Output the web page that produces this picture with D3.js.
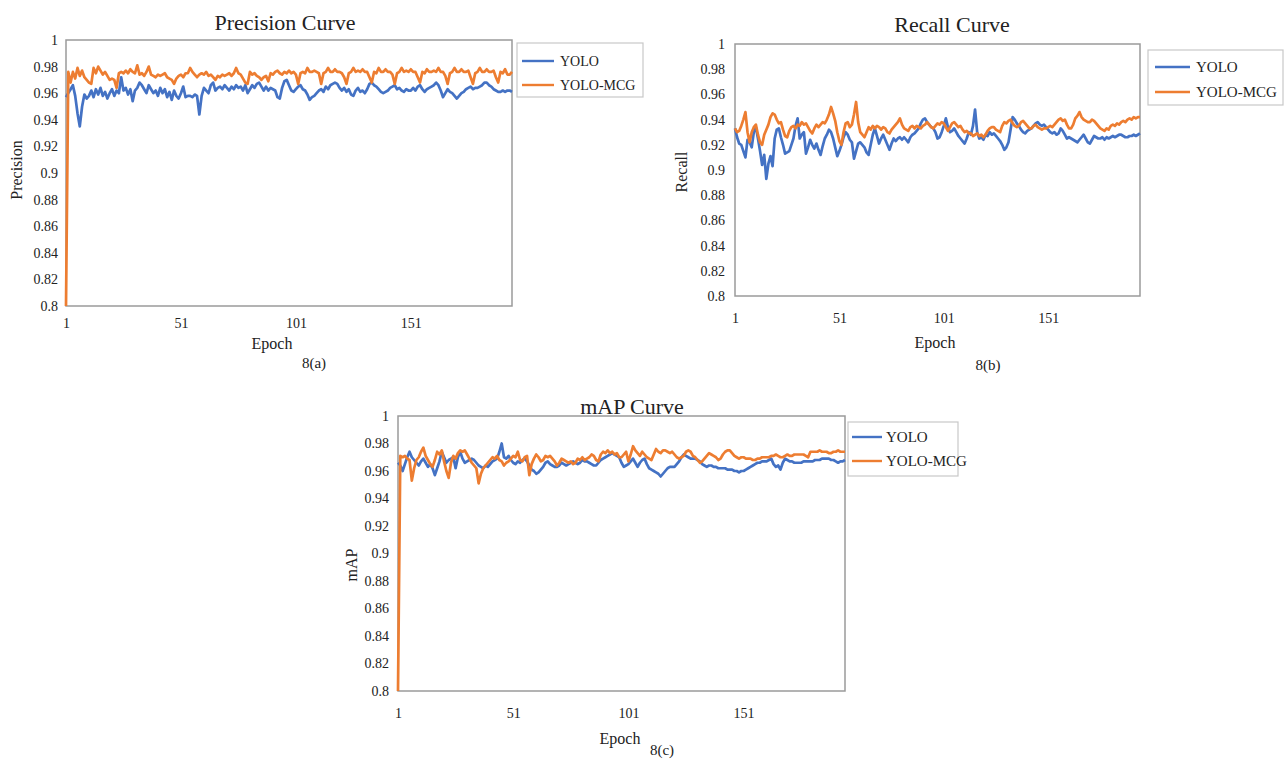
<!DOCTYPE html>
<html>
<head>
<meta charset="utf-8">
<script src="https://cdn.jsdelivr.net/npm/d3@7"></script>
<style>
  body { margin: 0; background: #fff; }
  svg text { font-family: "Liberation Serif", "Times New Roman", serif; fill: #222; }
</style>
</head>
<body>
<svg id="fig" width="1284" height="759"></svg>
<script>
// ── data ──────────────────────────────────────────────────────────────────────
const seriesNames = ["YOLO", "YOLO-MCG"];
const seriesColors = ["#4472C4", "#ED7D31"];
const xTicks = [1, 51, 101, 151];
const yTicks = [0.8, 0.82, 0.84, 0.86, 0.88, 0.9, 0.92, 0.94, 0.96, 0.98, 1];
const yTickLabels = ["0.8", "0.82", "0.84", "0.86", "0.88", "0.9", "0.92", "0.94", "0.96", "0.98", "1"];

const precisionYOLO = [
  0.957,0.960,0.963,0.966,0.958,0.945,0.935,0.950,0.959,0.956,
  0.958,0.962,0.957,0.963,0.959,0.964,0.958,0.961,0.956,0.960,
  0.963,0.958,0.962,0.960,0.972,0.962,0.964,0.959,0.963,0.954,
  0.962,0.964,0.968,0.966,0.963,0.960,0.966,0.963,0.960,0.962,
  0.958,0.964,0.960,0.963,0.957,0.961,0.955,0.962,0.958,0.956,
  0.960,0.965,0.957,0.958,0.958,0.957,0.959,0.958,0.944,0.958,
  0.964,0.962,0.960,0.966,0.968,0.962,0.964,0.965,0.963,0.966,
  0.964,0.962,0.965,0.963,0.966,0.964,0.965,0.962,0.966,0.960,
  0.963,0.966,0.964,0.967,0.968,0.965,0.962,0.965,0.962,0.964,
  0.963,0.962,0.957,0.956,0.964,0.969,0.970,0.966,0.962,0.961,
  0.963,0.965,0.966,0.963,0.962,0.959,0.955,0.957,0.958,0.960,
  0.962,0.963,0.961,0.965,0.963,0.966,0.967,0.968,0.967,0.964,
  0.962,0.964,0.961,0.963,0.959,0.958,0.962,0.964,0.961,0.962,
  0.960,0.963,0.967,0.968,0.966,0.965,0.963,0.961,0.960,0.961,
  0.962,0.964,0.965,0.966,0.963,0.964,0.962,0.961,0.963,0.962,
  0.962,0.964,0.962,0.965,0.966,0.963,0.961,0.963,0.964,0.965,
  0.966,0.968,0.966,0.962,0.957,0.960,0.963,0.961,0.960,0.958,
  0.956,0.958,0.960,0.961,0.963,0.964,0.965,0.963,0.964,0.964,
  0.965,0.966,0.968,0.968,0.966,0.965,0.963,0.962,0.961,0.961,
  0.962,0.961,0.962,0.962,0.961
];
const precisionMCG = [
  0.800,0.976,0.968,0.976,0.971,0.979,0.973,0.977,0.972,0.970,
  0.968,0.967,0.979,0.975,0.980,0.977,0.974,0.976,0.973,0.970,
  0.971,0.970,0.964,0.975,0.976,0.975,0.977,0.975,0.978,0.976,
  0.975,0.981,0.974,0.975,0.973,0.976,0.980,0.974,0.973,0.972,
  0.974,0.973,0.974,0.975,0.972,0.971,0.970,0.967,0.971,0.973,
  0.974,0.972,0.975,0.975,0.979,0.976,0.974,0.972,0.974,0.975,
  0.974,0.976,0.973,0.974,0.972,0.970,0.973,0.972,0.974,0.973,
  0.974,0.975,0.973,0.975,0.979,0.975,0.974,0.971,0.968,0.967,
  0.976,0.974,0.975,0.973,0.972,0.970,0.972,0.973,0.969,0.975,
  0.974,0.976,0.977,0.975,0.974,0.976,0.975,0.977,0.975,0.976,
  0.974,0.967,0.975,0.976,0.975,0.979,0.976,0.976,0.977,0.976,
  0.975,0.967,0.975,0.976,0.979,0.976,0.976,0.978,0.976,0.976,
  0.975,0.972,0.967,0.975,0.976,0.979,0.976,0.977,0.976,0.978,
  0.976,0.976,0.972,0.968,0.976,0.975,0.979,0.976,0.976,0.978,
  0.976,0.976,0.974,0.967,0.975,0.976,0.979,0.976,0.977,0.976,
  0.978,0.976,0.976,0.972,0.968,0.976,0.975,0.978,0.976,0.976,
  0.977,0.976,0.979,0.976,0.976,0.973,0.967,0.975,0.976,0.979,
  0.976,0.976,0.978,0.976,0.976,0.977,0.972,0.967,0.975,0.976,
  0.979,0.976,0.976,0.978,0.976,0.976,0.977,0.972,0.968,0.976,
  0.975,0.978,0.974,0.974,0.976
];
const recallYOLO = [
  0.933,0.926,0.921,0.920,0.915,0.910,0.924,0.922,0.918,0.930,
  0.934,0.925,0.915,0.904,0.912,0.893,0.905,0.911,0.903,0.925,
  0.932,0.933,0.926,0.920,0.913,0.914,0.915,0.920,0.925,0.935,
  0.941,0.925,0.928,0.930,0.913,0.918,0.924,0.920,0.917,0.921,
  0.916,0.912,0.919,0.925,0.928,0.932,0.930,0.925,0.918,0.911,
  0.915,0.920,0.926,0.930,0.928,0.924,0.922,0.909,0.915,0.921,
  0.922,0.920,0.918,0.914,0.912,0.920,0.928,0.933,0.927,0.921,
  0.925,0.928,0.924,0.920,0.916,0.921,0.925,0.923,0.925,0.926,
  0.924,0.926,0.924,0.922,0.926,0.928,0.929,0.931,0.933,0.937,
  0.940,0.941,0.938,0.936,0.934,0.933,0.930,0.925,0.926,0.930,
  0.935,0.941,0.934,0.930,0.931,0.933,0.930,0.927,0.925,0.923,
  0.921,0.925,0.930,0.928,0.935,0.948,0.930,0.925,0.926,0.924,
  0.928,0.927,0.930,0.928,0.929,0.927,0.925,0.923,0.920,0.916,
  0.918,0.922,0.932,0.942,0.940,0.937,0.935,0.932,0.930,0.929,
  0.931,0.932,0.933,0.935,0.937,0.938,0.936,0.935,0.936,0.934,
  0.932,0.930,0.929,0.930,0.928,0.929,0.933,0.931,0.928,0.925,
  0.926,0.925,0.924,0.923,0.922,0.924,0.926,0.928,0.925,0.922,
  0.921,0.924,0.927,0.926,0.925,0.925,0.926,0.924,0.926,0.925,
  0.926,0.927,0.926,0.927,0.928,0.928,0.927,0.926,0.926,0.927,
  0.927,0.928,0.927,0.928,0.929
];
const recallMCG = [
  0.933,0.930,0.931,0.935,0.940,0.946,0.930,0.922,0.930,0.934,
  0.936,0.928,0.922,0.920,0.928,0.932,0.936,0.942,0.945,0.944,
  0.940,0.937,0.938,0.932,0.927,0.926,0.931,0.934,0.935,0.933,
  0.936,0.935,0.938,0.936,0.937,0.934,0.931,0.929,0.933,0.936,
  0.934,0.936,0.938,0.937,0.940,0.944,0.950,0.945,0.939,0.930,
  0.923,0.920,0.930,0.937,0.938,0.934,0.936,0.944,0.954,0.938,
  0.930,0.928,0.926,0.930,0.934,0.932,0.935,0.933,0.935,0.934,
  0.932,0.934,0.933,0.930,0.929,0.932,0.934,0.936,0.938,0.941,
  0.936,0.933,0.932,0.931,0.934,0.935,0.933,0.935,0.934,0.933,
  0.935,0.936,0.938,0.936,0.934,0.933,0.935,0.937,0.936,0.938,
  0.937,0.934,0.931,0.934,0.937,0.938,0.936,0.934,0.935,0.932,
  0.930,0.931,0.929,0.929,0.927,0.928,0.929,0.927,0.928,0.926,
  0.928,0.931,0.933,0.934,0.934,0.932,0.931,0.930,0.935,0.938,
  0.937,0.939,0.940,0.937,0.935,0.934,0.935,0.938,0.939,0.937,
  0.935,0.933,0.933,0.935,0.936,0.934,0.933,0.932,0.933,0.933,
  0.934,0.935,0.934,0.936,0.938,0.940,0.941,0.939,0.940,0.936,
  0.933,0.933,0.936,0.941,0.943,0.946,0.942,0.940,0.939,0.938,
  0.938,0.940,0.939,0.937,0.935,0.933,0.932,0.931,0.933,0.932,
  0.935,0.936,0.935,0.937,0.936,0.938,0.939,0.938,0.940,0.941,
  0.940,0.942,0.941,0.942,0.942
];
const mapYOLO = [
  0.966,0.964,0.960,0.965,0.970,0.974,0.970,0.968,0.966,0.964,
  0.967,0.969,0.966,0.963,0.965,0.962,0.957,0.962,0.967,0.974,
  0.970,0.966,0.968,0.969,0.970,0.962,0.970,0.974,0.969,0.966,
  0.967,0.968,0.969,0.968,0.966,0.964,0.963,0.962,0.964,0.963,
  0.965,0.967,0.968,0.969,0.974,0.980,0.970,0.969,0.971,0.968,
  0.966,0.965,0.967,0.966,0.968,0.969,0.967,0.964,0.961,0.960,
  0.958,0.959,0.961,0.963,0.966,0.967,0.965,0.964,0.963,0.963,
  0.964,0.966,0.965,0.964,0.965,0.966,0.967,0.966,0.965,0.966,
  0.968,0.967,0.967,0.966,0.965,0.964,0.964,0.966,0.968,0.969,
  0.970,0.971,0.972,0.973,0.972,0.971,0.970,0.966,0.963,0.964,
  0.965,0.967,0.969,0.966,0.963,0.966,0.968,0.969,0.965,0.962,
  0.961,0.960,0.959,0.958,0.956,0.958,0.960,0.962,0.963,0.963,
  0.963,0.965,0.967,0.970,0.972,0.971,0.970,0.969,0.969,0.969,
  0.968,0.967,0.965,0.964,0.963,0.964,0.964,0.963,0.963,0.962,
  0.962,0.962,0.962,0.961,0.961,0.961,0.960,0.960,0.959,0.960,
  0.960,0.961,0.962,0.963,0.964,0.965,0.966,0.966,0.967,0.967,
  0.967,0.968,0.969,0.965,0.963,0.964,0.961,0.966,0.969,0.968,
  0.967,0.967,0.966,0.966,0.966,0.966,0.967,0.967,0.967,0.967,
  0.967,0.968,0.968,0.968,0.969,0.969,0.969,0.969,0.968,0.968,
  0.967,0.966,0.967,0.967,0.968
];
const mapMCG = [
  0.800,0.971,0.970,0.971,0.969,0.968,0.953,0.962,0.968,0.970,
  0.974,0.977,0.971,0.968,0.965,0.963,0.968,0.974,0.972,0.975,
  0.967,0.960,0.955,0.966,0.971,0.969,0.973,0.975,0.974,0.975,
  0.972,0.969,0.966,0.964,0.962,0.951,0.958,0.962,0.964,0.966,
  0.968,0.970,0.969,0.971,0.968,0.967,0.964,0.966,0.967,0.969,
  0.971,0.970,0.974,0.968,0.967,0.970,0.971,0.957,0.965,0.969,
  0.972,0.970,0.967,0.968,0.971,0.970,0.971,0.969,0.967,0.964,
  0.966,0.969,0.968,0.967,0.966,0.967,0.965,0.966,0.969,0.968,
  0.970,0.968,0.969,0.970,0.972,0.971,0.968,0.967,0.972,0.974,
  0.973,0.975,0.973,0.974,0.972,0.973,0.970,0.970,0.972,0.974,
  0.967,0.972,0.978,0.975,0.973,0.971,0.974,0.972,0.970,0.969,
  0.968,0.972,0.976,0.974,0.973,0.975,0.975,0.974,0.973,0.974,
  0.972,0.970,0.969,0.970,0.971,0.974,0.975,0.974,0.971,0.970,
  0.968,0.966,0.967,0.969,0.971,0.973,0.972,0.971,0.970,0.968,
  0.969,0.972,0.974,0.975,0.975,0.973,0.971,0.970,0.969,0.970,
  0.970,0.969,0.969,0.969,0.968,0.968,0.969,0.969,0.970,0.970,
  0.970,0.970,0.971,0.971,0.972,0.971,0.970,0.970,0.971,0.972,
  0.971,0.971,0.972,0.972,0.972,0.972,0.972,0.971,0.970,0.974,
  0.974,0.974,0.974,0.975,0.974,0.974,0.974,0.973,0.973,0.974,
  0.974,0.975,0.974,0.974,0.974
];

// ── panel layout ─────────────────────────────────────────────────────────────
const panels = [
  { title: "Precision Curve", yLabel: "Precision", tag: "8(a)", series: [precisionYOLO, precisionMCG],
    box: { x0: 66, x1: 512, y0: 40, y1: 306 }, yTickX: 58, xTickY: 327,
    titlePos: [285, 30], epochPos: [272, 349], tagPos: [314, 368], yLabelPos: [17, 170],
    legend: { x: 517, y: 43, w: 126, h: 54, rows: [61, 85], line: [522, 554], textX: 560, fs: 14 } },
  { title: "Recall Curve", yLabel: "Recall", tag: "8(b)", series: [recallYOLO, recallMCG],
    box: { x0: 735, x1: 1140, y0: 44, y1: 296 }, yTickX: 725, xTickY: 322,
    titlePos: [952, 32], epochPos: [935, 348], tagPos: [988, 370], yLabelPos: [682, 172],
    legend: { x: 1148, y: 50, w: 135, h: 55, rows: [67, 92], line: [1155, 1190], textX: 1196, fs: 15 } },
  { title: "mAP Curve", yLabel: "mAP", tag: "8(c)", series: [mapYOLO, mapMCG],
    box: { x0: 398, x1: 845, y0: 416, y1: 691 }, yTickX: 389, xTickY: 717,
    titlePos: [632, 414], epochPos: [620, 744], tagPos: [662, 755], yLabelPos: [352, 565],
    legend: { x: 848, y: 422, w: 110, h: 54, rows: [437, 461], line: [852, 882], textX: 886, fs: 15 } }
];

const svg = d3.select("#fig");

panels.forEach(drawPanel);

function drawPanel(p) {
  const n = p.series[0].length;
  const x = d3.scaleLinear().domain([1, n]).range([p.box.x0, p.box.x1]);
  const y = d3.scaleLinear().domain([0.8, 1]).range([p.box.y1, p.box.y0]);
  const g = svg.append("g");

  // plot frame
  g.append("rect")
    .attr("x", p.box.x0).attr("y", p.box.y0)
    .attr("width", p.box.x1 - p.box.x0).attr("height", p.box.y1 - p.box.y0)
    .attr("fill", "none").attr("stroke", "#9a9a9a").attr("stroke-width", 1.5);

  // axes (labels only, no tick marks)
  const yAxis = g.append("g")
    .attr("transform", `translate(${p.yTickX + 3},0)`)
    .call(d3.axisLeft(y).tickValues(yTicks).tickSize(0)
      .tickFormat((d, i) => yTickLabels[i]));
  const xAxis = g.append("g")
    .attr("transform", `translate(0,${p.xTickY - 12})`)
    .call(d3.axisBottom(x).tickValues(xTicks).tickSize(0).tickFormat(d3.format("d")));
  [yAxis, xAxis].forEach(a => {
    a.select(".domain").remove();
    a.selectAll("text").attr("font-size", 14)
      .attr("font-family", "Liberation Serif").attr("fill", "#222");
  });

  // lines
  const line = d3.line().x((d, i) => x(i + 1)).y(d => y(d));
  p.series.forEach((s, k) => {
    g.append("path")
      .datum(s)
      .attr("fill", "none")
      .attr("stroke", seriesColors[k])
      .attr("stroke-width", 2.7)
      .attr("stroke-linejoin", "round")
      .attr("d", line);
  });

  // texts
  g.append("text").attr("x", p.titlePos[0]).attr("y", p.titlePos[1])
    .attr("text-anchor", "middle").attr("font-size", 22).text(p.title);
  g.append("text").attr("x", p.epochPos[0]).attr("y", p.epochPos[1])
    .attr("text-anchor", "middle").attr("font-size", 16).text("Epoch");
  g.append("text").attr("x", p.tagPos[0]).attr("y", p.tagPos[1])
    .attr("text-anchor", "middle").attr("font-size", 15).text(p.tag);
  g.append("text")
    .attr("transform", `translate(${p.yLabelPos[0] + 5},${p.yLabelPos[1]}) rotate(-90)`)
    .attr("text-anchor", "middle").attr("font-size", 16).text(p.yLabel);

  // legend
  const L = p.legend;
  g.append("rect").attr("x", L.x).attr("y", L.y).attr("width", L.w).attr("height", L.h)
    .attr("fill", "#fff").attr("stroke", "#c8c8c8").attr("stroke-width", 1.2);
  seriesNames.forEach((name, k) => {
    g.append("line")
      .attr("x1", L.line[0]).attr("x2", L.line[1])
      .attr("y1", L.rows[k]).attr("y2", L.rows[k])
      .attr("stroke", seriesColors[k]).attr("stroke-width", 2.4);
    g.append("text").attr("x", L.textX).attr("y", L.rows[k] + 5)
      .attr("font-size", L.fs).text(name);
  });
}
</script>
</body>
</html>
